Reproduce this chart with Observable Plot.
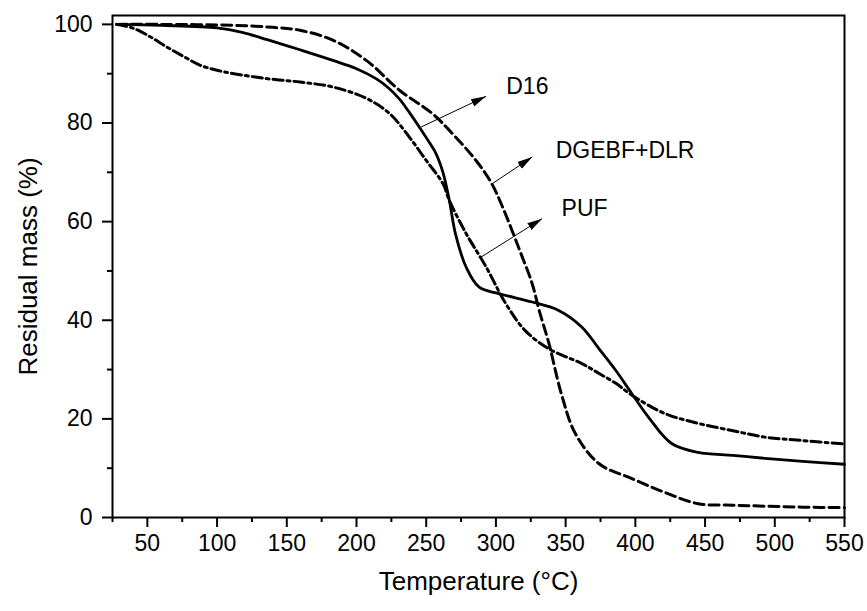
<!DOCTYPE html>
<html>
<head>
<meta charset="utf-8">
<script src="https://cdn.jsdelivr.net/npm/d3@7"></script>
<script src="https://cdn.jsdelivr.net/npm/@observablehq/plot@0.6"></script>
<style>
  html, body { margin: 0; padding: 0; background: #fff; }
  #chart { width: 867px; height: 611px; }
</style>
</head>
<body>
<div id="chart"></div>
<script>
// D16 (solid)
const d16T = [28, 60, 100, 118, 136, 160, 183, 200, 214, 223, 231, 238, 245, 251, 257, 262, 266.6, 271, 278.6, 288, 302, 326, 345, 361.7, 374, 386, 397.5, 409.5, 426, 445, 470, 493, 520, 550];
const d16M = [100, 99.8, 99.3, 98.4, 96.9, 94.8, 92.7, 91.0, 89.0, 87.1, 84.8, 82.1, 79.2, 76.6, 73.8, 70, 64.3, 57.5, 50.8, 46.7, 45.4, 43.7, 42, 38.6, 34.2, 29.8, 25.1, 20.3, 15, 13.2, 12.6, 12.0, 11.4, 10.8];
// DGEBF+DLR (dashed)
const dgT = [28, 60, 112, 140, 159.5, 183, 207, 231, 254.5, 266.6, 285.7, 297, 305, 316.6, 326, 331, 338, 347, 357, 374, 397.5, 421, 445, 470, 493, 520, 550];
const dgM = [100, 100, 99.8, 99.4, 98.8, 96.8, 92.7, 86.6, 81.9, 78.5, 72.4, 67.7, 62.8, 54.5, 47.4, 42, 35.3, 25, 17, 10.9, 7.9, 5.1, 2.8, 2.5, 2.3, 2.1, 2.0];
// PUF (dash-dot)
const pufT = [28, 40, 52, 64, 76, 88, 100, 112, 135.7, 159.5, 183, 207, 223.8, 238, 250, 262, 266.6, 278.6, 293, 307, 321, 338, 361.7, 374, 386, 397.5, 421, 445, 470, 493, 520, 550];
const pufM = [100, 99.2, 97.5, 95.4, 93.5, 91.7, 90.7, 90, 89, 88.3, 87.3, 85, 81.9, 77.1, 72.4, 67.7, 64.3, 57.6, 50.8, 43.4, 37.9, 34.2, 31.2, 29.2, 27.2, 24.8, 21.1, 19.1, 17.6, 16.3, 15.6, 14.9];

// Annotations
const annNames = ["D16", "DGEBF+DLR", "PUF"];
const annFromT = [246.4, 297.4, 289.3];
const annFromM = [79.2, 67.7, 52.8];
const annToT = [292.9, 326, 333.1];
const annToM = [85.4, 73.1, 60.6];
const annLabelT = [307.4, 342.9, 347.1];
const annLabelM = [87.3, 74.4, 62.6];

// Ticks
const xMajor = [50, 100, 150, 200, 250, 300, 350, 400, 450, 500, 550];
const xMinor = [25, 75, 125, 175, 225, 275, 325, 375, 425, 475, 525];
const yMajor = [0, 20, 40, 60, 80, 100];
const yMinor = [10, 30, 50, 70, 90];

const xLabel = "Temperature (°C)";
const yLabel = "Residual mass (%)";

const toRows = (T, M) => T.map((t, i) => ({t, m: M[i]}));
const d16 = toRows(d16T, d16M);
const dg = toRows(dgT, dgM);
const puf = toRows(pufT, pufM);
const ann = annNames.map((name, i) => ({
  name, x1: annFromT[i], y1: annFromM[i], x2: annToT[i], y2: annToM[i], lx: annLabelT[i], ly: annLabelM[i]
}));

function filledArrow(color) {
  const ns = "http://www.w3.org/2000/svg";
  const m = document.createElementNS(ns, "marker");
  m.setAttribute("viewBox", "0 -5 15 10");
  m.setAttribute("markerUnits", "userSpaceOnUse");
  m.setAttribute("markerWidth", "15");
  m.setAttribute("markerHeight", "10");
  m.setAttribute("refX", "15");
  m.setAttribute("refY", "0");
  m.setAttribute("orient", "auto");
  const p = document.createElementNS(ns, "path");
  p.setAttribute("d", "M0,-4L15,0L0,4Z");
  p.setAttribute("fill", color);
  p.setAttribute("stroke", "none");
  m.appendChild(p);
  return m;
}

const font = "'Liberation Sans', Arial, Helvetica, sans-serif";

const chart = Plot.plot({
  width: 867,
  height: 611,
  marginLeft: 112,
  marginRight: 23,
  marginTop: 15,
  marginBottom: 94,
  style: {fontFamily: font, background: "white", color: "black", overflow: "visible"},
  x: {domain: [25, 550]},
  y: {domain: [0, 101.8]},
  marks: [
    Plot.axisX(xMajor, {tickSize: 10, tickPadding: 7, fontSize: 23, strokeWidth: 2, color: "black", label: null}),
    Plot.axisX(xMinor, {tickSize: 5, strokeWidth: 2, color: "black", text: null, label: null}),
    Plot.axisY(yMajor, {tickSize: 10, tickPadding: 10, fontSize: 23, strokeWidth: 2, color: "black", label: null}),
    Plot.axisY(yMinor, {tickSize: 5, strokeWidth: 2, color: "black", text: null, label: null}),
    Plot.line(dg, {x: "t", y: "m", stroke: "black", strokeWidth: 3, strokeDasharray: "10,5", curve: "catmull-rom"}),
    Plot.line(puf, {x: "t", y: "m", stroke: "black", strokeWidth: 3, strokeDasharray: "10,4,3,4", curve: "catmull-rom"}),
    Plot.line(d16, {x: "t", y: "m", stroke: "black", strokeWidth: 2.8, curve: "catmull-rom"}),
    Plot.link(ann, {x1: "x1", y1: "y1", x2: "x2", y2: "y2", stroke: "black", strokeWidth: 1, markerEnd: filledArrow}),
    Plot.text(ann, {x: "lx", y: "ly", text: "name", textAnchor: "start", fontSize: 23, fill: "black"}),
    Plot.text([xLabel], {frameAnchor: "bottom", textAnchor: "middle", dy: 72, fontSize: 26, fill: "black"}),
    Plot.text([yLabel], {frameAnchor: "left", textAnchor: "middle", dx: -84, rotate: -90, fontSize: 26, fill: "black"}),
    Plot.frame({stroke: "black", strokeWidth: 2})
  ]
});
document.getElementById("chart").appendChild(chart);
</script>
</body>
</html>
